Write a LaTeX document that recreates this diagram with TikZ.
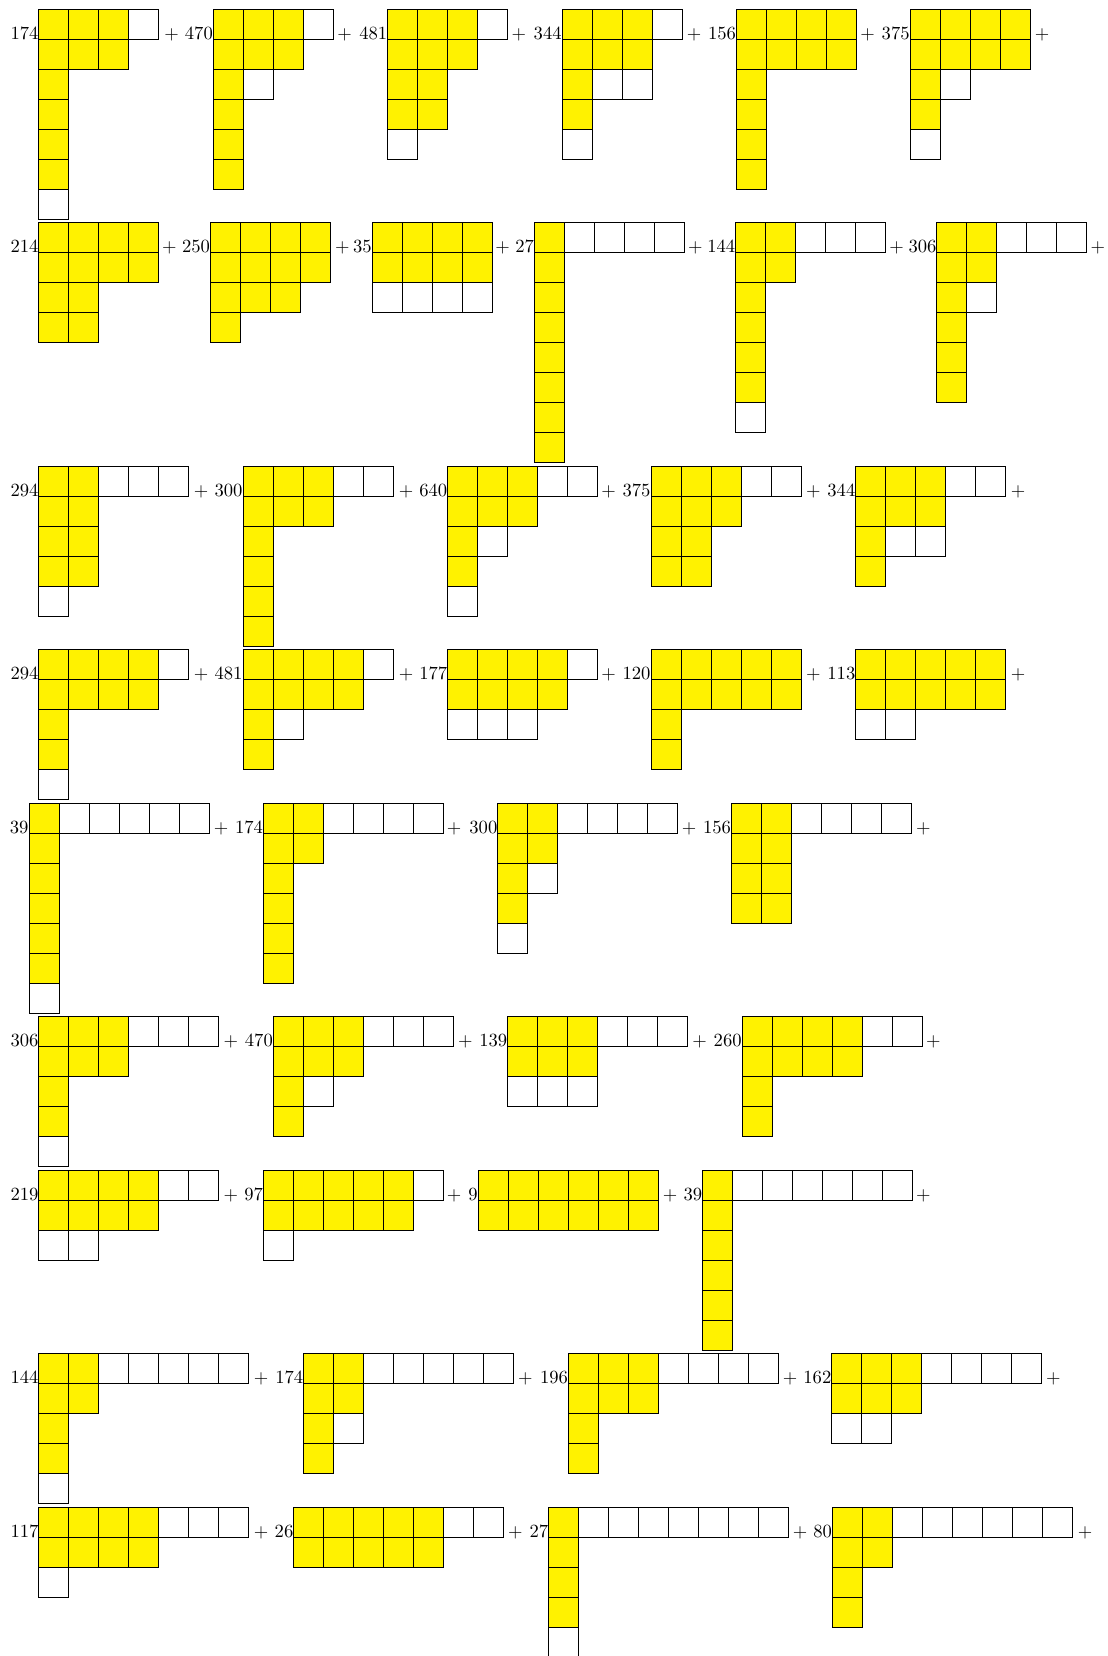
\documentclass[tikz,border=0pt]{standalone}
\usepackage{tikz}

\definecolor{cellyellow}{RGB}{255,242,0}

\tikzset{
  cell/.style={draw=black, line width=0.4pt},
  coef/.style={anchor=base east, inner sep=0pt},
  plus/.style={anchor=base, inner sep=0pt}
}

% #1 name, #2 x, #3 baseline, #4 coefficient, #5 rows as yellow/white
\newcommand{\yterm}[5]{%
  \node[coef] (#1) at (#2,#3) {#4};
  \foreach [count=\ri] \yel/\wht in {#5} {
    \pgfmathtruncatemacro{\tot}{\yel+\wht}
    \foreach \ci in {1,...,\tot} {
      \ifnum\ci>\yel \def\cellfill{white}\else \def\cellfill{cellyellow}\fi
      \draw[cell, fill=\cellfill] ({#2+30*(\ci-1)},{#3+30*(\ri-2)}) rectangle ++(30,30);
    }
  }
}

\begin{document}
\begin{tikzpicture}[x=0.5375pt, y=-0.5375pt]
  \useasboundingbox (0,0) rectangle (1107,1656);

  % Row 1
  \yterm{a1}{38.8}{39.3}{174}{3/1,3/0,1/0,1/0,1/0,1/0,0/1}
  \node[plus] (pa1) at (171.6,39.3) {$+$};
  \yterm{a2}{213.2}{39.3}{470}{3/1,3/0,1/1,1/0,1/0,1/0}
  \node[plus] (pa2) at (344.5,39.3) {$+$};
  \yterm{a3}{387.6}{39.3}{481}{3/1,3/0,2/0,2/0,0/1}
  \node[plus] (pa3) at (518.9,39.3) {$+$};
  \yterm{a4}{562.0}{39.3}{344}{3/1,3/0,1/2,1/0,0/1}
  \node[plus] (pa4) at (694.0,39.3) {$+$};
  \yterm{a5}{736.3}{39.3}{156}{4/0,4/0,1/0,1/0,1/0,1/0}
  \node[plus] (pa5) at (867.7,39.3) {$+$};
  \yterm{a6}{910.0}{39.3}{375}{4/0,4/0,1/1,1/0,0/1}
  \node[plus] (pa6) at (1042.1,39.3) {$+$};

  % Row 2
  \yterm{b1}{38.8}{252.7}{214}{4/0,4/0,2/0,2/0}
  \node[plus] (pb1) at (169.4,252.7) {$+$};
  \yterm{b2}{210.4}{252.7}{250}{4/0,4/0,3/0,1/0}
  \node[plus] (pb2) at (342.4,252.7) {$+$};
  \yterm{b3}{372.0}{252.7}{35}{4/0,4/0,0/4}
  \node[plus] (pb3) at (502.7,252.7) {$+$};
  \yterm{b4}{534.4}{252.7}{27}{1/4,1/0,1/0,1/0,1/0,1/0,1/0,1/0}
  \node[plus] (pb4) at (695.4,252.7) {$+$};
  \yterm{b5}{735.6}{252.7}{144}{2/3,2/0,1/0,1/0,1/0,1/0,0/1}
  \node[plus] (pb5) at (896.6,252.7) {$+$};
  \yterm{b6}{936.8}{252.7}{306}{2/3,2/0,1/1,1/0,1/0,1/0}
  \node[plus] (pb6) at (1097.8,252.7) {$+$};

  % Row 3
  \yterm{c1}{38.8}{496.7}{294}{2/3,2/0,2/0,2/0,0/1}
  \node[plus] (pc1) at (201.2,496.7) {$+$};
  \yterm{c2}{242.9}{496.7}{300}{3/2,3/0,1/0,1/0,1/0,1/0}
  \node[plus] (pc2) at (406.0,496.7) {$+$};
  \yterm{c3}{447.6}{496.7}{640}{3/2,3/0,1/1,1/0,0/1}
  \node[plus] (pc3) at (608.6,496.7) {$+$};
  \yterm{c4}{650.9}{496.7}{375}{3/2,3/0,2/0,2/0}
  \node[plus] (pc4) at (813.3,496.7) {$+$};
  \yterm{c5}{855.7}{496.7}{344}{3/2,3/0,1/2,1/0}
  \node[plus] (pc5) at (1018.0,496.7) {$+$};

  % Row 4
  \yterm{d1}{38.8}{679.7}{294}{4/1,4/0,1/0,1/0,0/1}
  \node[plus] (pd1) at (201.2,679.7) {$+$};
  \yterm{d2}{242.9}{679.7}{481}{4/1,4/0,1/1,1/0}
  \node[plus] (pd2) at (406.0,679.7) {$+$};
  \yterm{d3}{447.6}{679.7}{177}{4/1,4/0,0/3}
  \node[plus] (pd3) at (608.6,679.7) {$+$};
  \yterm{d4}{650.9}{679.7}{120}{5/0,5/0,1/0,1/0}
  \node[plus] (pd4) at (813.3,679.7) {$+$};
  \yterm{d5}{855.7}{679.7}{113}{5/0,5/0,0/2}
  \node[plus] (pd5) at (1018.0,679.7) {$+$};

  % Row 5
  \yterm{e1}{28.9}{833.3}{39}{1/5,1/0,1/0,1/0,1/0,1/0,0/1}
  \node[plus] (pe1) at (221.0,833.3) {$+$};
  \yterm{e2}{263.3}{833.3}{174}{2/4,2/0,1/0,1/0,1/0,1/0}
  \node[plus] (pe2) at (454.0,833.3) {$+$};
  \yterm{e3}{497.7}{833.3}{300}{2/4,2/0,1/1,1/0,0/1}
  \node[plus] (pe3) at (689.0,833.3) {$+$};
  \yterm{e4}{731.4}{833.3}{156}{2/4,2/0,2/0,2/0}
  \node[plus] (pe4) at (923.4,833.3) {$+$};

  % Row 6
  \yterm{f1}{38.8}{1046.3}{306}{3/3,3/0,1/0,1/0,0/1}
  \node[plus] (pf1) at (230.9,1046.3) {$+$};
  \yterm{f2}{273.2}{1046.3}{470}{3/3,3/0,1/1,1/0}
  \node[plus] (pf2) at (465.3,1046.3) {$+$};
  \yterm{f3}{507.6}{1046.3}{139}{3/3,3/0,0/3}
  \node[plus] (pf3) at (699.6,1046.3) {$+$};
  \yterm{f4}{742.0}{1046.3}{260}{4/2,4/0,1/0,1/0}
  \node[plus] (pf4) at (933.3,1046.3) {$+$};

  % Row 7
  \yterm{g1}{38.8}{1200.3}{219}{4/2,4/0,0/2}
  \node[plus] (pg1) at (230.9,1200.3) {$+$};
  \yterm{g2}{263.3}{1200.3}{97}{5/1,5/0,0/1}
  \node[plus] (pg2) at (454.0,1200.3) {$+$};
  \yterm{g3}{478.0}{1200.3}{9}{6/0,6/0}
  \node[plus] (pg3) at (670.0,1200.3) {$+$};
  \yterm{g4}{702.5}{1200.3}{39}{1/6,1/0,1/0,1/0,1/0,1/0}
  \node[plus] (pg4) at (923.4,1200.3) {$+$};

  % Row 8
  \yterm{h1}{38.8}{1383.3}{144}{2/5,2/0,1/0,1/0,0/1}
  \node[plus] (ph1) at (261.2,1383.3) {$+$};
  \yterm{h2}{303.6}{1383.3}{174}{2/5,2/0,1/1,1/0}
  \node[plus] (ph2) at (525.3,1383.3) {$+$};
  \yterm{h3}{568.3}{1383.3}{196}{3/4,3/0,1/0,1/0}
  \node[plus] (ph3) at (790.0,1383.3) {$+$};
  \yterm{h4}{831.7}{1383.3}{162}{3/4,3/0,0/2}
  \node[plus] (ph4) at (1053.4,1383.3) {$+$};

  % Row 9
  \yterm{i1}{38.8}{1537}{117}{4/3,4/0,0/1}
  \node[plus] (pi1) at (261.2,1537) {$+$};
  \yterm{i2}{293.7}{1537}{26}{5/2,5/0}
  \node[plus] (pi2) at (515.4,1537) {$+$};
  \yterm{i3}{548.6}{1537}{27}{1/7,1/0,1/0,1/0,0/1}
  \node[plus] (pi3) at (800.0,1537) {$+$};
  \yterm{i4}{832.4}{1537}{80}{2/6,2/0,1/0,1/0}
  \node[plus] (pi4) at (1085.1,1537) {$+$};
\end{tikzpicture}
\end{document}
